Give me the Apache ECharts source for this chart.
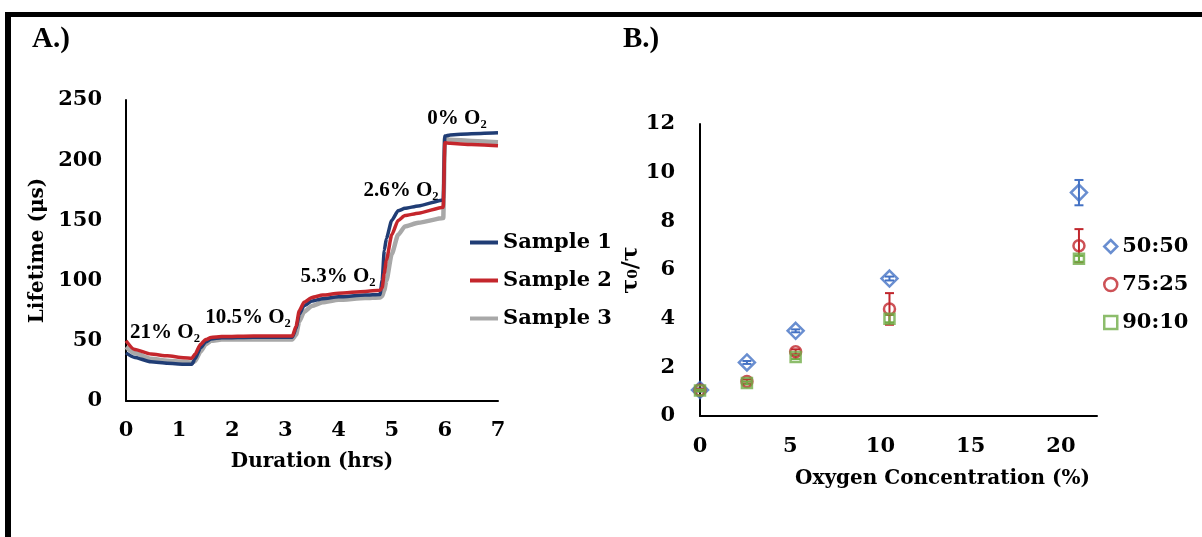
<!DOCTYPE html>
<html>
<head>
<meta charset="utf-8">
<script src="https://cdn.jsdelivr.net/npm/echarts@6/dist/echarts.min.js"></script>
<style>
html, body { margin: 0; padding: 0; background: #fff; }
#main { width: 1202px; height: 537px; }
</style>
</head>
<body>
<div id="main"></div>
<script>
// panel A: lifetime vs time
const hours = [0, 0.15, 0.47, 0.78, 1.08, 1.24, 1.3, 1.4, 1.5, 1.6, 1.8, 2.4, 3.13, 3.2, 3.26, 3.35, 3.5, 3.7, 4.0, 4.5, 4.78, 4.82, 4.86, 4.9, 5.0, 5.12, 5.25, 5.5, 5.97, 6.0, 6.1, 6.5, 7.0];
const sample1 = [40, 36.4, 32.5, 31.4, 30.6, 30.5, 35, 44, 49, 51.5, 52.5, 53, 53, 60, 72, 79, 83, 85, 86.5, 88, 88.5, 100, 125, 135, 150, 158, 160, 162, 167, 220, 221, 222, 222.7];
const sample2 = [50, 43, 39, 37.5, 36, 35.5, 39, 47, 51, 52.7, 53.5, 54, 54, 62, 75, 82, 86, 88, 89.5, 91, 92, 94, 106, 117, 138, 150, 154, 156, 161, 214.4, 214, 213, 212];
const sample3 = [45, 40, 35, 33.5, 32.5, 32, 33, 41, 47, 50, 51, 51, 51, 55, 66, 74, 79, 82, 84, 85.5, 86, 87, 92, 100, 122, 138, 145, 148, 152, 218, 217, 216, 215];
const sampleNames = ['Sample 1', 'Sample 2', 'Sample 3'];

// panel B: tau0/tau vs oxygen
const o2Pct = [0, 2.6, 5.3, 10.5, 21];
const ratio5050 = [1.07, 2.2, 3.5, 5.65, 9.18];
const err5050 = [0.06, 0.06, 0.06, 0.08, 0.52];
const ratio7525 = [1.07, 1.42, 2.64, 4.4, 7.0];
const err7525 = [0.05, 0.08, 0.1, 0.65, 0.68];
const ratio9010 = [1.05, 1.36, 2.42, 4.0, 6.46];
const err9010 = [0.04, 0.06, 0.08, 0.15, 0.12];
const ratioNames = ['50:50', '75:25', '90:10'];

const serif = 'DejaVu Serif';
const times = 'Liberation Serif';
const blue = '#4472c4', red = '#c0262c', green = '#70ad47';

function pairs(xs, ys) { return xs.map((x, i) => [x, ys[i]]); }
function triples(xs, ys, es) { return xs.map((x, i) => [x, ys[i], es[i]]); }

function errorBar(color) {
    return function (params, api) {
        const x = api.value(0), y = api.value(1), e = api.value(2);
        const top = api.coord([x, y + e]);
        const bot = api.coord([x, y - e]);
        const w = 4.5;
        const st = { stroke: color, lineWidth: 2 };
        return {
            type: 'group',
            children: [
                { type: 'line', shape: { x1: top[0], y1: top[1], x2: bot[0], y2: bot[1] }, style: st },
                { type: 'line', shape: { x1: top[0] - w, y1: top[1], x2: top[0] + w, y2: top[1] }, style: st },
                { type: 'line', shape: { x1: bot[0] - w, y1: bot[1], x2: bot[0] + w, y2: bot[1] }, style: st }
            ]
        };
    };
}

const tickLabel = { color: '#000', fontFamily: serif, fontWeight: 'bold', fontSize: 21 };
const axisLine = { show: true, lineStyle: { color: '#000', width: 2 } };

function o2Label(text, x, y) {
    return {
        type: 'text', x: x, y: y,
        style: { text: text, font: 'bold 21px "' + times + '"', fill: '#000', align: 'center', verticalAlign: 'middle' }
    };
}

const chart = echarts.init(document.getElementById('main'));
const option = {
    backgroundColor: '#fff',
    animation: false,
    grid: [
        { left: 126, top: 100, width: 372, bottom: 136 },
        { left: 700, top: 124, width: 397, bottom: 121 }
    ],
    legend: [
        {
            data: sampleNames, orient: 'vertical', left: 470, top: 232, itemGap: 17, padding: 0,
            icon: 'rect', itemWidth: 28, itemHeight: 4,
            textStyle: { color: '#000', fontFamily: serif, fontWeight: 'bold', fontSize: 21 }
        },
        {
            data: ratioNames, orient: 'vertical', left: 1103, top: 236, itemGap: 17, padding: 0,
            itemWidth: 13, itemHeight: 13,
            itemStyle: { borderWidth: 2.5 },
            textStyle: { color: '#000', fontFamily: serif, fontWeight: 'bold', fontSize: 21 }
        }
    ],
    xAxis: [
        {
            type: 'value', gridIndex: 0, min: 0, max: 7, interval: 1,
            axisLine: axisLine, axisTick: { show: false }, splitLine: { show: false },
            axisLabel: Object.assign({ margin: 19 }, tickLabel),
            name: 'Duration (hrs)', nameLocation: 'middle', nameGap: 51,
            nameTextStyle: { color: '#000', fontFamily: serif, fontWeight: 'bold', fontSize: 20 }
        },
        {
            type: 'value', gridIndex: 1, min: 0, max: 22, interval: 5,
            axisLine: axisLine, axisTick: { show: false }, splitLine: { show: false },
            axisLabel: Object.assign({ margin: 20, showMaxLabel: false }, tickLabel),
            name: 'Oxygen Concentration (%)', nameLocation: 'middle', nameGap: 53,
            nameTextStyle: { color: '#000', fontFamily: serif, fontWeight: 'bold', fontSize: 20, padding: [0, 0, 0, 88] }
        }
    ],
    yAxis: [
        {
            type: 'value', gridIndex: 0, min: 0, max: 250, interval: 50,
            axisLine: axisLine, axisTick: { show: false }, splitLine: { show: false },
            axisLabel: Object.assign({ margin: 24 }, tickLabel),
            name: 'Lifetime (μs)', nameLocation: 'middle', nameGap: 78,
            nameTextStyle: { color: '#000', fontFamily: serif, fontWeight: 'bold', fontSize: 20 }
        },
        {
            type: 'value', gridIndex: 1, min: 0, max: 12, interval: 2,
            axisLine: axisLine, axisTick: { show: false }, splitLine: { show: false },
            axisLabel: Object.assign({ margin: 25 }, tickLabel),
            name: 'τ₀/τ', nameLocation: 'middle', nameGap: 58,
            nameTextStyle: { color: '#000', fontFamily: serif, fontWeight: 'bold', fontSize: 22 }
        }
    ],
    series: [
        {
            name: 'Sample 1', type: 'line', xAxisIndex: 0, yAxisIndex: 0, z: 3,
            data: pairs(hours, sample1), symbol: 'none', smooth: 0.2, smoothMonotone: 'x',
            lineStyle: { color: '#203d75', width: 3.5 }, itemStyle: { color: '#203d75' }
        },
        {
            name: 'Sample 2', type: 'line', xAxisIndex: 0, yAxisIndex: 0, z: 4,
            data: pairs(hours, sample2), symbol: 'none', smooth: 0.2, smoothMonotone: 'x',
            lineStyle: { color: '#c4262c', width: 3.5 }, itemStyle: { color: '#c4262c' }
        },
        {
            name: 'Sample 3', type: 'line', xAxisIndex: 0, yAxisIndex: 0, z: 2,
            data: pairs(hours, sample3), symbol: 'none', smooth: 0.2, smoothMonotone: 'x',
            lineStyle: { color: '#a8a8a8', width: 4.5 }, itemStyle: { color: '#a8a8a8' }
        },
        {
            name: '50:50', type: 'scatter', xAxisIndex: 1, yAxisIndex: 1, z: 4,
            data: pairs(o2Pct, ratio5050), symbol: 'diamond', symbolSize: 16,
            itemStyle: { color: 'rgba(255,255,255,0)', borderColor: blue, borderWidth: 2.5 }
        },
        {
            name: '75:25', type: 'scatter', xAxisIndex: 1, yAxisIndex: 1, z: 4,
            data: pairs(o2Pct, ratio7525), symbol: 'circle', symbolSize: 11,
            itemStyle: { color: 'rgba(255,255,255,0)', borderColor: red, borderWidth: 2.5 }
        },
        {
            name: '90:10', type: 'scatter', xAxisIndex: 1, yAxisIndex: 1, z: 4,
            data: pairs(o2Pct, ratio9010), symbol: 'rect', symbolSize: 10,
            itemStyle: { color: 'rgba(255,255,255,0)', borderColor: green, borderWidth: 2.5 }
        },
        { type: 'custom', xAxisIndex: 1, yAxisIndex: 1, renderItem: errorBar(blue), data: triples(o2Pct, ratio5050, err5050), z: 3 },
        { type: 'custom', xAxisIndex: 1, yAxisIndex: 1, renderItem: errorBar(red), data: triples(o2Pct, ratio7525, err7525), z: 3 },
        { type: 'custom', xAxisIndex: 1, yAxisIndex: 1, renderItem: errorBar(green), data: triples(o2Pct, ratio9010, err9010), z: 3 }
    ],
    graphic: [
        { type: 'rect', shape: { x: 5, y: 12, width: 1197, height: 5 }, style: { fill: '#000' } },
        { type: 'rect', shape: { x: 5, y: 12, width: 6, height: 525 }, style: { fill: '#000' } },
        { type: 'text', x: 32, y: 40, style: { text: 'A.)', font: 'bold 29px "' + times + '"', fill: '#000', verticalAlign: 'middle' } },
        { type: 'text', x: 623, y: 40, style: { text: 'B.)', font: 'bold 29px "' + times + '"', fill: '#000', verticalAlign: 'middle' } },
        o2Label('21% O₂', 165, 333),
        o2Label('10.5% O₂', 248, 318),
        o2Label('5.3% O₂', 338, 277),
        o2Label('2.6% O₂', 401, 191),
        o2Label('0% O₂', 457, 119)
    ]
};
chart.setOption(option);
</script>
</body>
</html>
